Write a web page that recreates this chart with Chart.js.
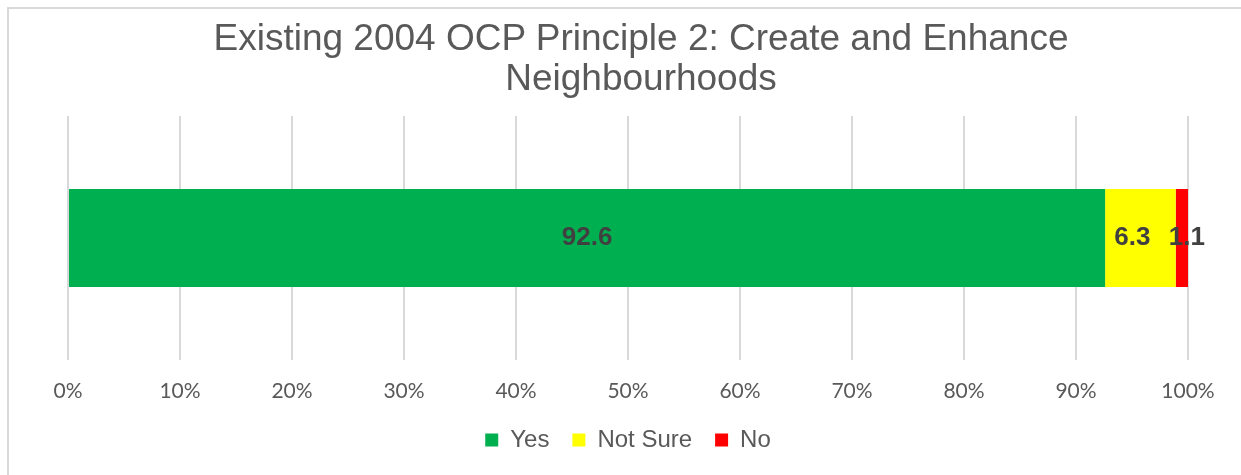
<!DOCTYPE html>
<html>
<head>
<meta charset="utf-8">
<script src="https://cdn.jsdelivr.net/npm/chart.js@4/dist/chart.umd.min.js"></script>
<style>
  html, body { margin: 0; padding: 0; background: #fff; overflow: hidden; }
  #wrap { position: relative; width: 1241px; height: 475px; }
  #frame { position: absolute; left: 7px; top: 7px; width: 1300px; height: 520px; border: 2px solid #d9d9d9; box-sizing: border-box; }
  #title { position: absolute; left: 0; top: 18px; width: 1282px; text-align: center;
           font-family: "Liberation Sans", Arial, sans-serif; font-size: 37px; line-height: 40px; color: #595959; }
  canvas { position: absolute; left: 0; top: 0; }
</style>
</head>
<body>
<div id="wrap">
  <div id="frame"></div>
  <canvas id="chart" width="1241" height="475"></canvas>
  <div id="title">Existing 2004 OCP Principle 2: Create and Enhance<br>Neighbourhoods</div>
</div>
<script>
// dados do gráfico
var categories = ['Principle 2'];
var seriesNames = ['Yes', 'Not Sure', 'No'];
var yesValues = [92.6];
var notSureValues = [6.3];
var noValues = [1.1];
var seriesColors = ['#00b050', '#ffff00', '#ff0000'];
var tickValues = [0, 10, 20, 30, 40, 50, 60, 70, 80, 90, 100];
// deslocamento horizontal dos rótulos (como no Excel)
var labelNudge = [0, -8, 5];

// Plugin simples para os rótulos dos valores
var valueLabels = {
  id: 'valueLabels',
  afterDatasetsDraw: function(chart) {
    var ctx = chart.ctx;
    ctx.save();
    ctx.font = 'bold 26px "Liberation Sans", Arial, sans-serif';
    ctx.fillStyle = '#404040';
    ctx.textAlign = 'center';
    ctx.textBaseline = 'middle';
    chart.data.datasets.forEach(function(ds, i) {
      var meta = chart.getDatasetMeta(i);
      meta.data.forEach(function(bar, j) {
        var cx = (bar.x + bar.base) / 2 + labelNudge[i];
        ctx.fillText(ds.data[j].toFixed(1), cx, bar.y);
      });
    });
    ctx.restore();
  }
};

var ctx = document.getElementById('chart').getContext('2d');
var chart = new Chart(ctx, {
  type: 'bar',
  data: {
    labels: categories,
    datasets: [{
      label: seriesNames[0],
      data: yesValues,
      backgroundColor: seriesColors[0]
    }, {
      label: seriesNames[1],
      data: notSureValues,
      backgroundColor: seriesColors[1]
    }, {
      label: seriesNames[2],
      data: noValues,
      backgroundColor: seriesColors[2]
    }]
  },
  options: {
    indexAxis: 'y',
    responsive: false,
    animation: false,
    barPercentage: 0.4016,
    categoryPercentage: 1,
    layout: {
      padding: { left: 68, right: 53, top: 116, bottom: 13 }
    },
    plugins: {
      legend: {
        position: 'bottom',
        labels: {
          color: '#595959',
          font: { family: '"Liberation Sans", Arial, sans-serif', size: 24 },
          boxWidth: 13,
          boxHeight: 13,
          padding: 23
        }
      },
      tooltip: { enabled: false }
    },
    scales: {
      x: {
        stacked: true,
        min: 0,
        max: 100,
        afterBuildTicks: function(axis) {
          axis.ticks = tickValues.map(function(v) { return { value: v }; });
        },
        afterFit: function(axis) {
          axis.height = 45;
        },
        grid: {
          color: '#d9d9d9',
          lineWidth: 2,
          drawTicks: false
        },
        border: { display: false },
        ticks: {
          padding: 19,
          color: '#595959',
          font: { family: 'Lato, sans-serif', size: 21 },
          callback: function(v) { return v + '%'; }
        }
      },
      y: {
        stacked: true,
        display: false
      }
    }
  },
  plugins: [valueLabels]
});
</script>
</body>
</html>
